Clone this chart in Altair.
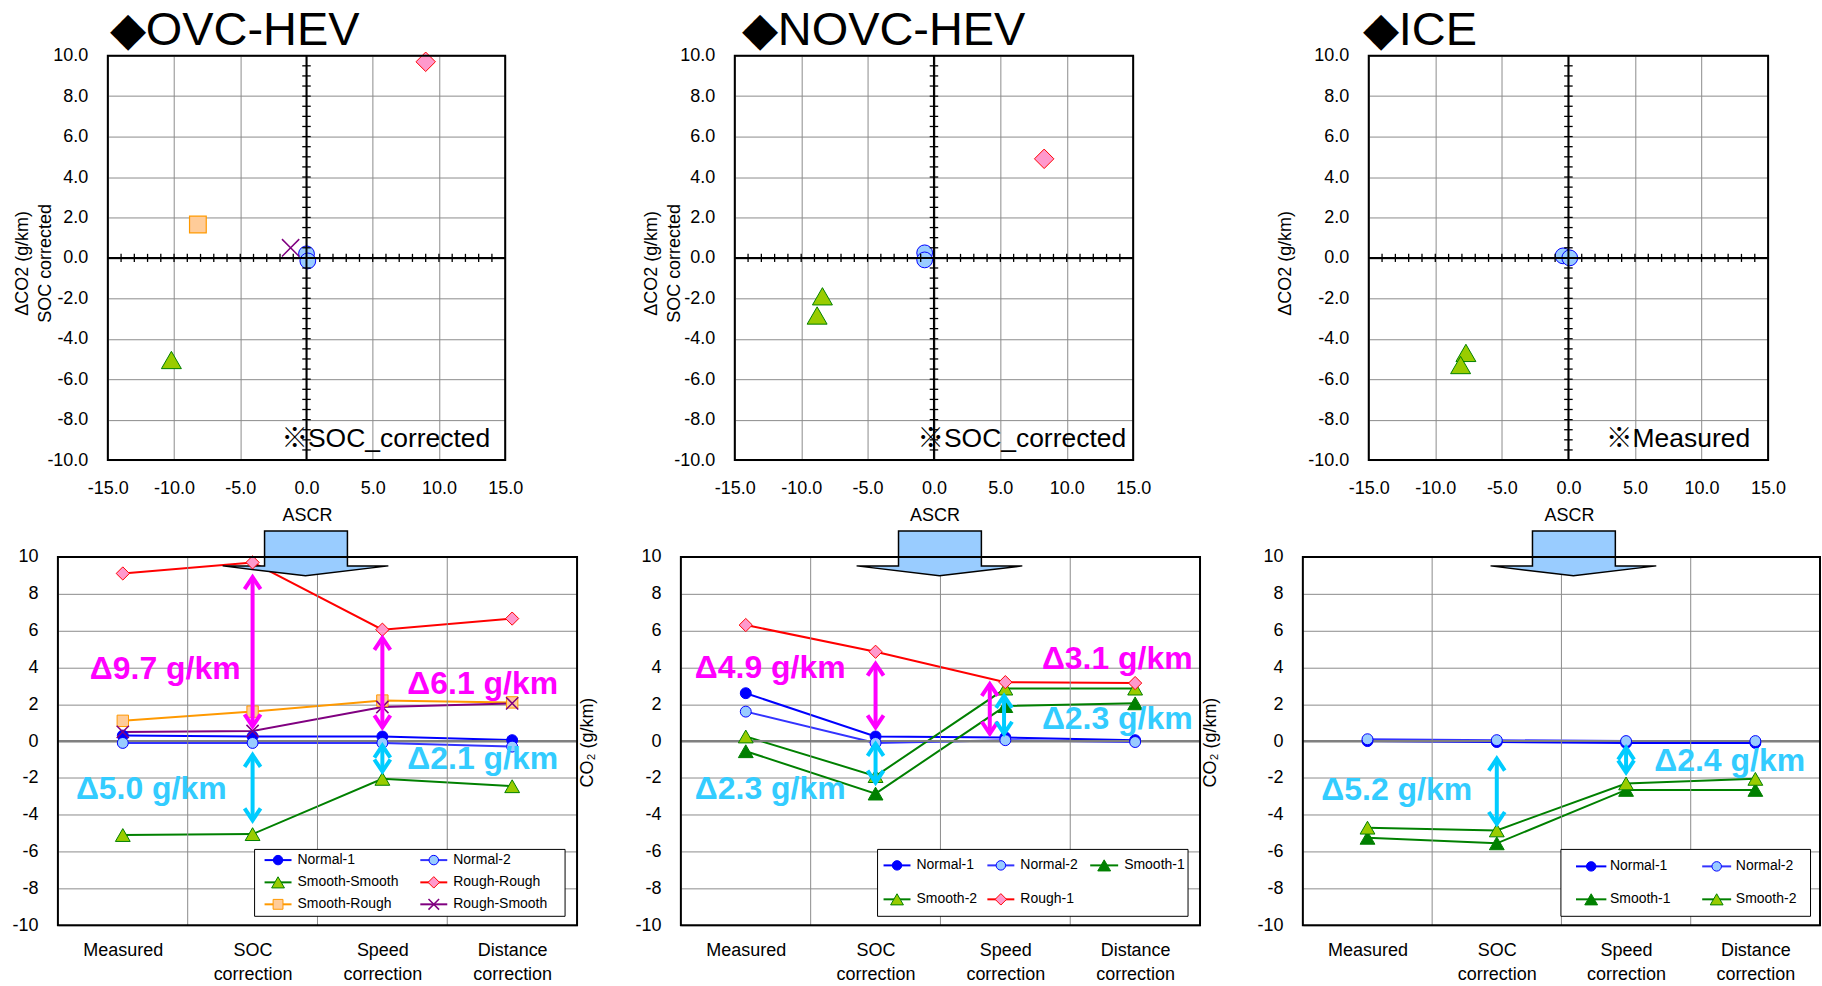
import json
import altair as alt
import pandas as pd

FONT = "Liberation Sans"
FONT_NOTE = "Liberation Sans, Noto Sans CJK JP"
MAGENTA = "#FF00FF"
CYAN = "#00CCFF"
CYAN_TXT = "#33CCFF"
GRID = "#8C8C8C"

X_PATH = "M-1,-1L1,1M-1,1L1,-1"
CHEV_UP = "M-1,1.5L0,0L1,1.5"
CHEV_DN = "M-1,-1.5L0,0L1,-1.5"
BLOCK_ARROW = "M-41,-45L42,-45L42,-10L83,-10L0,0L-83,-10L-41,-10Z"

# ---------------- top row: ASCR (x) vs dCO2 (y) ----------------
ovc_ascr = [0.0, 0.1, -10.2, 9.0, -8.2, -1.2]
ovc_dco2 = [0.2, -0.15, -5.05, 9.7, 1.65, 0.5]
ovc_kind = ["circle", "circle", "triangle", "diamond", "square", "x"]

novc_ascr = [-0.7, -0.7, -8.4, -8.8, 8.3]
novc_dco2 = [0.25, -0.1, -1.9, -2.85, 4.9]
novc_kind = ["circle", "circle", "triangle", "triangle", "diamond"]

ice_ascr = [-0.4, 0.1, -7.7, -8.1]
ice_dco2 = [0.1, 0.0, -4.7, -5.3]
ice_kind = ["circle", "circle", "triangle", "triangle"]

# ---------------- bottom row: correction steps ----------------
step_labels = ["Measured", "SOC\ncorrection", "Speed\ncorrection", "Distance\ncorrection"]

ovc_names = ["Normal-1", "Normal-2", "Smooth-Smooth", "Rough-Rough", "Smooth-Rough", "Rough-Smooth"]
ovc_normal1 = [0.3, 0.25, 0.25, 0.05]
ovc_normal2 = [-0.1, -0.1, -0.1, -0.3]
ovc_smooth_smooth = [-5.1, -5.05, -2.05, -2.45]
ovc_rough_rough = [9.1, 9.7, 6.05, 6.65]
ovc_smooth_rough = [1.1, 1.6, 2.2, 2.1]
ovc_rough_smooth = [0.5, 0.55, 1.85, 2.05]

novc_names = ["Normal-1", "Normal-2", "Smooth-1", "Smooth-2", "Rough-1"]
novc_normal1 = [2.6, 0.25, 0.2, 0.05]
novc_normal2 = [1.6, -0.1, 0.05, -0.05]
novc_smooth1 = [-0.55, -2.85, 1.9, 2.05]
novc_smooth2 = [0.25, -1.9, 2.85, 2.85]
novc_rough1 = [6.3, 4.85, 3.2, 3.15]

ice_names = ["Normal-1", "Normal-2", "Smooth-1", "Smooth-2"]
ice_normal1 = [0.0, -0.05, -0.1, -0.1]
ice_normal2 = [0.1, 0.05, 0.0, 0.0]
ice_smooth1 = [-5.25, -5.55, -2.65, -2.65]
ice_smooth2 = [-4.7, -4.85, -2.3, -2.05]

# annotation arrows (step position, top, bottom, colour)
ovc_arr_x = [2, 3, 2, 3]
ovc_arr_top = [8.9, 5.6, -0.75, -0.25]
ovc_arr_bot = [0.8, 0.75, -4.3, -1.65]
ovc_arr_c = [MAGENTA, MAGENTA, CYAN, CYAN]
novc_arr_x = [2, 2, 2.88, 2.99]
novc_arr_top = [4.2, -0.15, 3.1, 2.45]
novc_arr_bot = [0.75, -2.25, 0.4, 0.4]
novc_arr_c = [MAGENTA, CYAN, MAGENTA, CYAN]
ice_arr_x = [2, 3]
ice_arr_top = [-0.95, -0.35]
ice_arr_bot = [-4.5, -1.7]
ice_arr_c = [CYAN, CYAN]

ovc_notes = ["\u03949.7 g/km", "\u03946.1 g/km", "\u03945.0 g/km", "\u03942.1 g/km"]
novc_notes = ["\u03944.9 g/km", "\u03943.1 g/km", "\u03942.3 g/km", "\u03942.3 g/km"]
ice_notes = ["\u03945.2 g/km", "\u03942.4 g/km"]

SC_STYLE = {
    "circle": ("circle", "#99CCFF", "#0000FF", 250, 1.0),
    "triangle": ("triangle-up", "#99CC00", "#008000", 400, 1.0),
    "diamond": ("diamond", "#FF99CC", "#FF0000", 380, 1.0),
    "square": ("square", "#FFCC99", "#FF9900", 280, 1.2),
    "x": (X_PATH, "transparent", "#800080", 300, 1.5),
}

SER_STYLE = {
    "Normal-1": ("#0000FF", "circle", "#0000FF", "#0000FF", 120, 1.0),
    "Normal-2": ("#3333FF", "circle", "#99CCFF", "#0000FF", 120, 1.0),
    "Smooth-Smooth": ("#008000", "triangle-up", "#99CC00", "#008000", 220, 1.0),
    "Rough-Rough": ("#FF0000", "diamond", "#FF99CC", "#FF0000", 175, 1.0),
    "Smooth-Rough": ("#FF9900", "square", "#FFCC99", "#FF9900", 130, 1.0),
    "Rough-Smooth": ("#800080", X_PATH, "transparent", "#800080", 150, 1.5),
    "Smooth-1": ("#008000", "triangle-up", "#008000", "#008000", 220, 1.0),
    "Smooth-2": ("#008000", "triangle-up", "#99CC00", "#008000", 220, 1.0),
    "Rough-1": ("#FF0000", "diamond", "#FF99CC", "#FF0000", 175, 1.0),
}


def one_row():
    return pd.DataFrame({"d": [0]})


def fmt_expr(spec):
    return "replace(format(datum.value, '" + spec + "'), '\u2212', '-')"


def border(w, h):
    return alt.Chart(one_row()).mark_rect(fillOpacity=0, stroke="black", strokeWidth=2).encode(
        x=alt.value(0), x2=alt.value(w), y=alt.value(0), y2=alt.value(h))


def point_enc(xe, ye, prefix=""):
    return dict(
        x=xe, y=ye,
        shape=alt.Shape(prefix + "shape:N", scale=None),
        fill=alt.Fill(prefix + "fill:N", scale=None),
        stroke=alt.Stroke(prefix + "stroke:N", scale=None),
        size=alt.Size(prefix + "size:Q", scale=None),
        strokeWidth=alt.StrokeWidth(prefix + "sw:Q", scale=None),
    )


def scatter_panel(ascr, dco2, kinds, width, title, title_x, ytitles, ytitle_x, note, note_right):
    H = 405
    xs = alt.Scale(domain=[-15, 15], nice=False, zero=False)
    ys = alt.Scale(domain=[-10, 10], nice=False, zero=False)
    df = pd.DataFrame({
        "ascr": ascr, "dco2": dco2,
        "shape": [SC_STYLE[k][0] for k in kinds],
        "fill": [SC_STYLE[k][1] for k in kinds],
        "stroke": [SC_STYLE[k][2] for k in kinds],
        "size": [SC_STYLE[k][3] for k in kinds],
        "sw": [SC_STYLE[k][4] for k in kinds],
    })
    common = dict(ticks=False, domain=False, labelFont=FONT, labelFontSize=18, labelColor="black",
                  labelFlush=False, labelOverlap=False, grid=True, gridColor=GRID, gridWidth=1,
                  tickCount=40, title=None)
    xaxis = alt.Axis(values=[-15, -10, -5, 0, 5, 10, 15], labelExpr=fmt_expr(".1f"), labelPadding=20,
                     **common)
    yaxis = alt.Axis(values=list(range(-10, 11, 2)), labelExpr=fmt_expr(".1f"), labelPadding=20,
                     **common)

    points = alt.Chart(df).mark_point(filled=True, opacity=1).encode(
        **point_enc(alt.X("ascr:Q", scale=xs, axis=xaxis), alt.Y("dco2:Q", scale=ys, axis=yaxis)))

    zero = pd.DataFrame({"v": [0]})
    cross_v = alt.Chart(zero).mark_rule(color="black", strokeWidth=2).encode(
        x=alt.X("v:Q", scale=xs))
    cross_h = alt.Chart(zero).mark_rule(color="black", strokeWidth=2).encode(
        y=alt.Y("v:Q", scale=ys))
    xt = pd.DataFrame({"v": [v for v in range(-14, 15) if v != 0], "a": -0.2, "b": 0.2})
    yt = pd.DataFrame({"v": [i / 2 for i in range(-19, 20) if i != 0], "a": -0.32, "b": 0.32})
    xticks = alt.Chart(xt).mark_rule(color="black", strokeWidth=1.3).encode(
        x=alt.X("v:Q", scale=xs), y=alt.Y("a:Q", scale=ys), y2="b:Q")
    yticks = alt.Chart(yt).mark_rule(color="black", strokeWidth=1.3).encode(
        y=alt.Y("v:Q", scale=ys), x=alt.X("a:Q", scale=xs), x2="b:Q")

    ttl = alt.Chart(one_row()).mark_text(text=title, align="left", baseline="alphabetic",
                                          fontSize=47, font=FONT, color="black").encode(
        x=alt.value(title_x), y=alt.value(-11))
    yt_df = pd.DataFrame({"txt": ytitles, "px": ytitle_x})
    ytl = alt.Chart(yt_df).mark_text(angle=270, fontSize=18, font=FONT, color="black",
                                     align="center", baseline="middle").encode(
        x=alt.X("px:Q", scale=None), y=alt.value(208), text="txt:N")
    nt = alt.Chart(one_row()).mark_text(text=note, align="right", baseline="middle",
                                        fontSize=26.5, font=FONT_NOTE, color="black").encode(
        x=alt.value(note_right), y=alt.value(384))
    return alt.layer(points, cross_v, cross_h, xticks, yticks, ttl, ytl, nt, border(width, H)).properties(
        width=width, height=H)


def line_panel(width, names, series_vals, leg_box, leg_cols, leg_rows, ncol,
               arr_x, arr_top, arr_bot, arr_c, notes, note_px, note_py, note_c, tip_x, ascr_x, co2=True):
    W, H = width, 369
    xs = alt.Scale(domain=[0.5, 4.5], nice=False, zero=False)
    ys = alt.Scale(domain=[-10, 10], nice=False, zero=False)
    rows = []
    for k, (name, vals) in enumerate(zip(names, series_vals)):
        st = SER_STYLE[name]
        for i, v in enumerate(vals):
            rows.append({"series": name, "step": i + 1, "val": v, "lc": st[0], "shape": st[1],
                         "fill": st[2], "stroke": st[3], "size": st[4], "sw": st[5], "k": k})
    df = pd.DataFrame(rows)

    label_arr = json.dumps([s.split("\n") for s in step_labels])
    xaxis = alt.Axis(values=[1, 2, 3, 4], labelExpr=label_arr + "[datum.value - 1]", grid=False,
                     ticks=False, domain=False, labelFont=FONT, labelFontSize=18, labelColor="black",
                     labelPadding=16.5, labelLineHeight=24, labelFlush=False, labelOverlap=False,
                     tickCount=40, title=None)
    yaxis = alt.Axis(values=list(range(-10, 11, 2)), labelExpr=fmt_expr("d"), grid=True, gridColor=GRID,
                     gridWidth=1, ticks=False, domain=False, labelFont=FONT, labelFontSize=18,
                     labelColor="black", labelPadding=20, labelFlush=False, labelOverlap=False,
                     tickCount=40, title=None)

    lines = alt.Chart(df).mark_line(strokeWidth=2).encode(
        x=alt.X("step:Q", scale=xs, axis=xaxis), y=alt.Y("val:Q", scale=ys, axis=yaxis),
        color=alt.Color("lc:N", scale=None), detail="series:N")
    vgrid = alt.Chart(pd.DataFrame({"v": [1.5, 2.5, 3.5]})).mark_rule(color=GRID, strokeWidth=1).encode(
        x=alt.X("v:Q", scale=xs))
    zline = alt.Chart(pd.DataFrame({"v": [0]})).mark_rule(color="#808080", strokeWidth=2).encode(
        y=alt.Y("v:Q", scale=ys))
    block = alt.Chart(one_row()).mark_point(shape=BLOCK_ARROW, size=4, filled=True, fill="#99CCFF",
                                            stroke="black", strokeWidth=1.5, opacity=1).encode(
        x=alt.value(tip_x), y=alt.value(19))
    ascr_t = alt.Chart(one_row()).mark_text(text="ASCR", fontSize=18, font=FONT, color="black",
                                            align="center", baseline="middle").encode(
        x=alt.value(ascr_x), y=alt.value(-41))
    pts = alt.Chart(df).mark_point(filled=True, opacity=1).encode(
        **point_enc(alt.X("step:Q", scale=xs), alt.Y("val:Q", scale=ys)))

    adf = pd.DataFrame({"ax": arr_x, "top": arr_top, "bot": arr_bot, "ac": arr_c})
    shaft = alt.Chart(adf).mark_rule(strokeWidth=4).encode(
        x=alt.X("ax:Q", scale=xs), y=alt.Y("top:Q", scale=ys), y2="bot:Q",
        color=alt.Color("ac:N", scale=None))
    head_up = alt.Chart(adf).mark_point(shape=CHEV_UP, size=256, filled=False, strokeWidth=4,
                                        opacity=1).encode(
        x=alt.X("ax:Q", scale=xs), y=alt.Y("top:Q", scale=ys),
        stroke=alt.Stroke("ac:N", scale=None))
    head_dn = alt.Chart(adf).mark_point(shape=CHEV_DN, size=256, filled=False, strokeWidth=4,
                                        opacity=1).encode(
        x=alt.X("ax:Q", scale=xs), y=alt.Y("bot:Q", scale=ys),
        stroke=alt.Stroke("ac:N", scale=None))

    ndf = pd.DataFrame({"t": notes, "px": note_px, "py": note_py, "c": note_c})
    ntext = alt.Chart(ndf).mark_text(align="left", baseline="middle", fontSize=32, fontWeight="bold",
                                     font=FONT).encode(
        x=alt.X("px:Q", scale=None), y=alt.Y("py:Q", scale=None), text="t:N",
        color=alt.Color("c:N", scale=None))

    # legend
    lrows = []
    for i, name in enumerate(names):
        st = SER_STYLE[name]
        c = leg_cols[i % ncol]
        lrows.append({"series": name, "lx1": c[0], "lx2": c[1], "lxm": (c[0] + c[1]) / 2, "tx": c[2],
                      "ly": leg_rows[i // ncol], "lc": st[0], "shape": st[1], "fill": st[2],
                      "stroke": st[3], "size": st[4] * 0.75, "sw": st[5]})
    ldf = pd.DataFrame(lrows)
    lbox = alt.Chart(one_row()).mark_rect(fill="white", stroke="black", strokeWidth=1).encode(
        x=alt.value(leg_box[0]), x2=alt.value(leg_box[2]), y=alt.value(leg_box[1]), y2=alt.value(leg_box[3]))
    llines = alt.Chart(ldf).mark_rule(strokeWidth=2).encode(
        x=alt.X("lx1:Q", scale=None), x2="lx2:Q", y=alt.Y("ly:Q", scale=None),
        color=alt.Color("lc:N", scale=None))
    lpts = alt.Chart(ldf).mark_point(filled=True, opacity=1).encode(
        **point_enc(alt.X("lxm:Q", scale=None), alt.Y("ly:Q", scale=None)))
    ltext = alt.Chart(ldf).mark_text(align="left", baseline="middle", fontSize=14, font=FONT,
                                     color="black").encode(
        x=alt.X("tx:Q", scale=None), y=alt.Y("ly:Q", scale=None), text="series:N")

    layers = [lines, vgrid, zline, block, ascr_t, pts, shaft, head_up, head_dn, ntext,
              lbox, llines, lpts, ltext]
    if co2:
        layers.append(alt.Chart(one_row()).mark_text(text="CO\u2082 (g/km)", angle=270, fontSize=18,
                                                     font=FONT, color="black", align="center",
                                                     baseline="middle").encode(
            x=alt.value(W + 11), y=alt.value(186)))
    layers.append(border(W, H))
    return alt.layer(*layers).properties(width=W, height=H)


def spacer(w, h, anchors=None):
    if anchors:
        d = pd.DataFrame({"ax": [a[0] for a in anchors], "ay": [a[1] for a in anchors]})
        enc = dict(x=alt.X("ax:Q", scale=None), y=alt.Y("ay:Q", scale=None))
    else:
        d = one_row()
        enc = dict(x=alt.value(0), y=alt.value(0))
    return alt.Chart(d).mark_point(size=0, opacity=0).encode(**enc).properties(width=w, height=h)


s1 = scatter_panel(ovc_ascr, ovc_dco2, ovc_kind, 398, "\u25c6OVC-HEV", 2,
                   ["\u0394CO2 (g/km)", "SOC corrected"], [-85, -62], "\u203bSOC_corrected", 383)
s2 = scatter_panel(novc_ascr, novc_dco2, novc_kind, 399, "\u25c6NOVC-HEV", 7,
                   ["\u0394CO2 (g/km)", "SOC corrected"], [-83, -60], "\u203bSOC_corrected", 392)
s3 = scatter_panel(ice_ascr, ice_dco2, ice_kind, 400, "\u25c6ICE", -6,
                   ["\u0394CO2 (g/km)"], [-83], "\u203bMeasured", 382)

l1 = line_panel(520, ovc_names,
                [ovc_normal1, ovc_normal2, ovc_smooth_smooth, ovc_rough_rough, ovc_smooth_rough, ovc_rough_smooth],
                (197, 293, 508, 360), [(207, 234, 240), (363, 390, 396)], [303.7, 326, 348], 2,
                ovc_arr_x, ovc_arr_top, ovc_arr_bot, ovc_arr_c,
                ovc_notes, [32, 350, 18, 350], [112.7, 127.7, 232.7, 202.7],
                [MAGENTA, MAGENTA, CYAN_TXT, CYAN_TXT], 248, 250)
l2 = line_panel(520, novc_names,
                [novc_normal1, novc_normal2, novc_smooth1, novc_smooth2, novc_rough1],
                (197, 293, 508, 360), [(203, 230, 236), (307, 334, 340), (410, 438, 444)], [309, 343], 3,
                novc_arr_x, novc_arr_top, novc_arr_bot, novc_arr_c,
                novc_notes, [14, 361.6, 361.6, 14], [111, 102.7, 162.7, 232.7],
                [MAGENTA, MAGENTA, CYAN_TXT, CYAN_TXT], 259, 254.5)
l3 = line_panel(518, ice_names,
                [ice_normal1, ice_normal2, ice_smooth1, ice_smooth2],
                (258.5, 293, 508.5, 360), [(273.6, 304, 307.6), (400, 429, 433.7)], [310, 343], 2,
                ice_arr_x, ice_arr_top, ice_arr_bot, ice_arr_c,
                ice_notes, [18.5, 352], [234, 204], [CYAN_TXT, CYAN_TXT], 271, 267, co2=False)

top_row = alt.hconcat(spacer(51, 405, anchors=[(-56, -54), (-56, 446)]), s1, spacer(230, 405), s2,
                      spacer(236, 405), s3, spacing=0, bounds="flush")
bottom_row = alt.hconcat(spacer(1, 369, anchors=[(-55, -54)]), l1, spacer(104, 369), l2,
                         spacer(103, 369), l3, spacing=0, bounds="flush")

chart = alt.vconcat(top_row, bottom_row, spacing=0).properties(padding=0, background="white").configure(
    font=FONT).configure_view(stroke="transparent")

chart.save("out.html", embed_options={"renderer": "svg", "actions": False})
